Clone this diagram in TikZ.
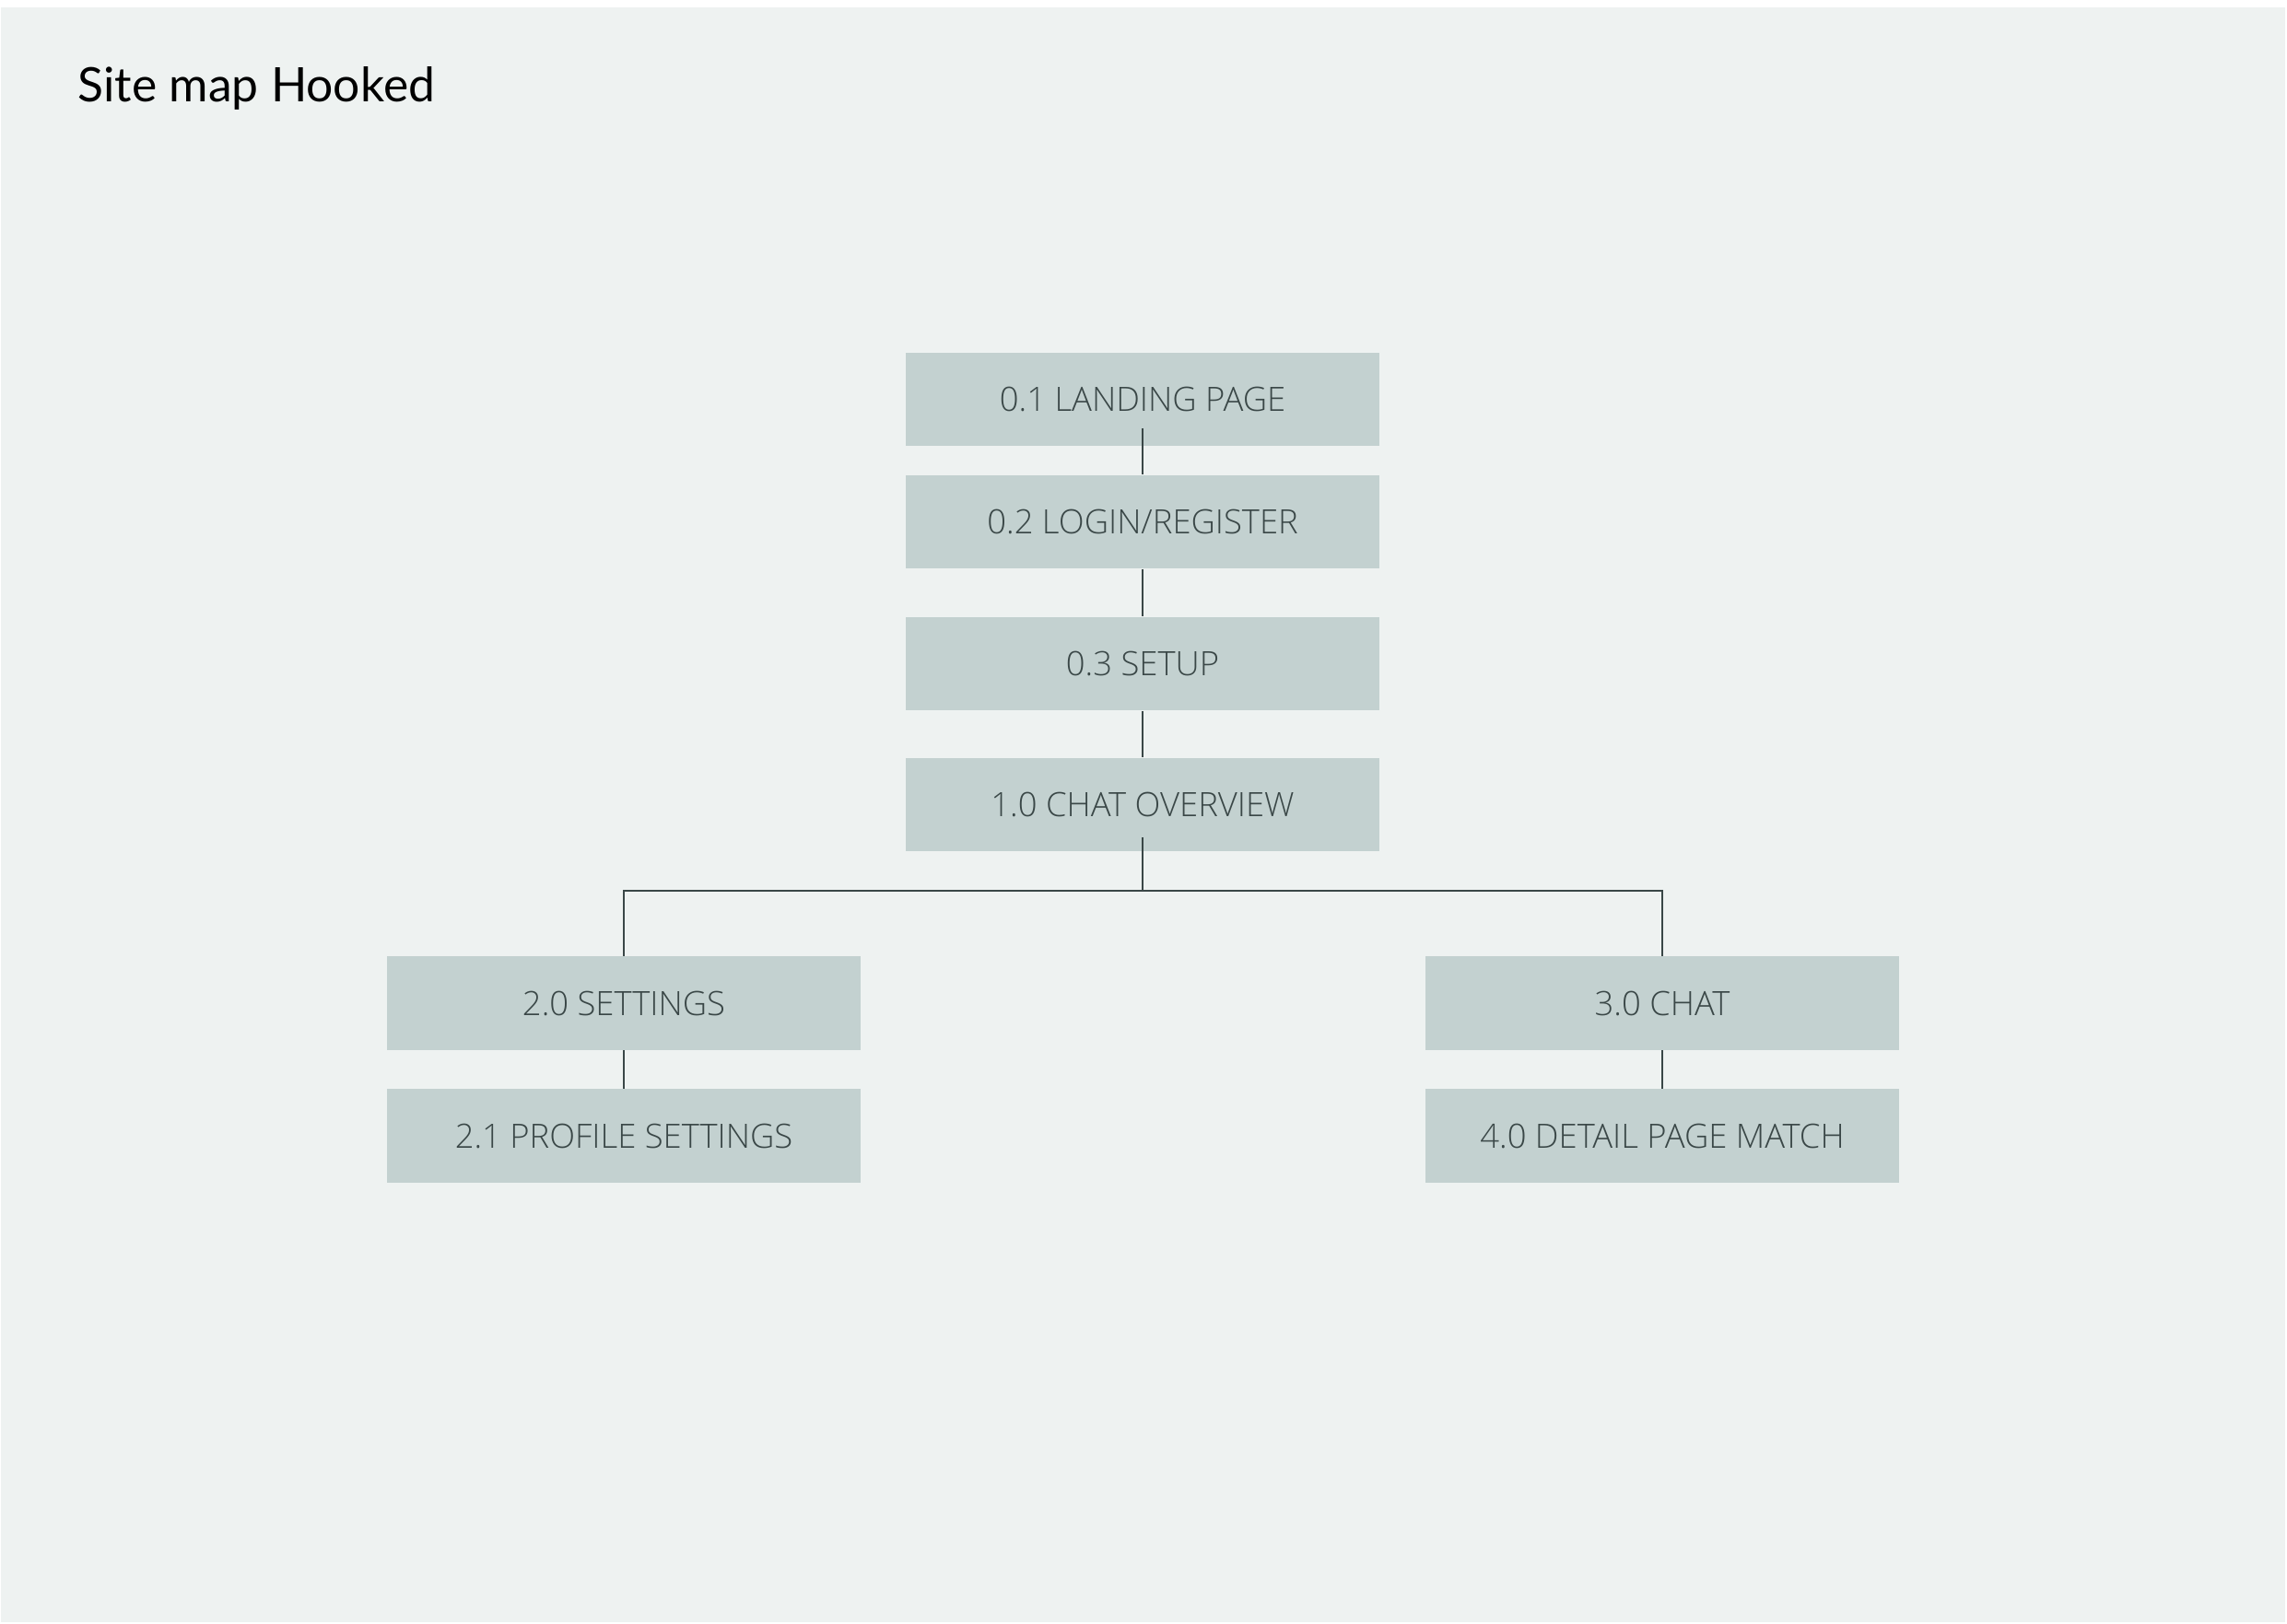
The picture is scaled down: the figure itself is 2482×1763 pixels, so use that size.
\documentclass[tikz,border=0pt]{standalone}
\usepackage{fontspec}
\setmainfont{Open Sans Light}
\newfontfamily\titlefont{Lato}
\definecolor{pagebg}{HTML}{EEF2F1}
\definecolor{boxfill}{HTML}{C3D1D0}
\definecolor{boxtext}{HTML}{3A4747}
\tikzset{
  pagebox/.style = {rectangle, fill=boxfill, text=boxtext, inner sep=0pt,
    minimum width=128.5pt, minimum height=25.3pt, font=\fontsize{9.1}{11}\selectfont},
  link/.style = {draw=boxtext, line width=0.6pt},
}

\begin{document}
\begin{tikzpicture}[x=0.25pt, y=-0.25pt]
  \useasboundingbox (0,0) rectangle (2482,1763);
  \fill[white] (0,0) rectangle (2482,1763);
  \fill[pagebg] (1,8) rectangle (2480,1761);
  \node [anchor=base west, inner sep=0pt, font=\titlefont\fontsize{12.9}{15}\selectfont] (title) at (84,111) {Site map Hooked};

  \node [pagebox] (landing) at (1240,433.5) {0.1 LANDING PAGE};
  \node [pagebox] (login) at (1240,566.5) {0.2 LOGIN/REGISTER};
  \node [pagebox] (setup) at (1240,720.5) {0.3 SETUP};
  \node [pagebox] (overview) at (1240,873.5) {1.0 CHAT OVERVIEW};
  \node [pagebox] (settings) at (677,1089) {2.0 SETTINGS};
  \node [pagebox] (profile) at (677,1233) {2.1 PROFILE SETTINGS};
  \node [pagebox] (chat) at (1804,1089) {3.0 CHAT};
  \node [pagebox] (detail) at (1804,1233) {4.0 DETAIL PAGE MATCH};

  \coordinate (bus) at (1240,967);
  \draw [link] ([yshift=5pt]landing.south) -- (login.north);
  \draw [link] (login) -- (setup);
  \draw [link] (setup) -- (overview);
  \draw [link] ([yshift=4pt]overview.south) -- (bus);
  \draw [link] (settings.north) |- (bus) -| (chat.north);
  \draw [link] (settings) -- (profile);
  \draw [link] (chat) -- (detail);
\end{tikzpicture}
\end{document}
